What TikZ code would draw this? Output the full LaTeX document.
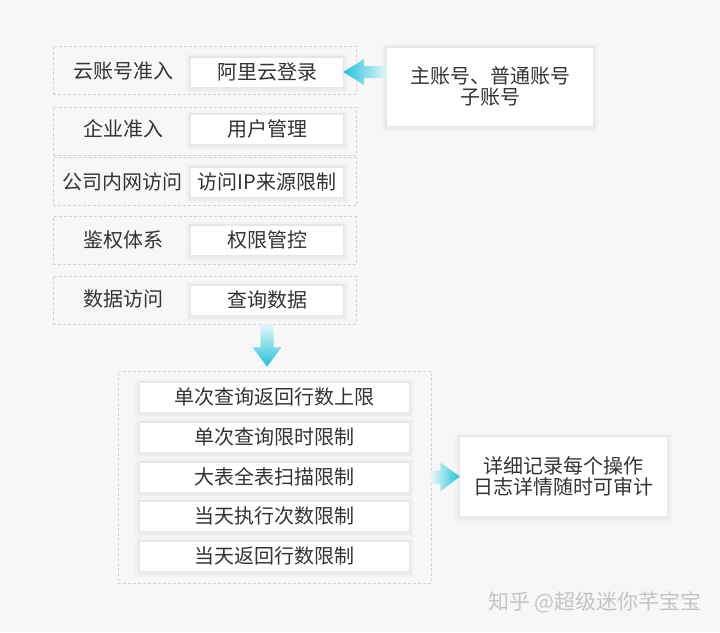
\documentclass[tikz,border=0pt]{standalone}
\usepackage{fontspec}
\setmainfont{Noto Sans CJK SC}
\usetikzlibrary{calc}
\definecolor{bg}{HTML}{F7F7F7}
\definecolor{txt}{HTML}{333333}
\definecolor{dashc}{HTML}{D4D4D4}
\definecolor{arrowc}{HTML}{22C3D9}
\definecolor{arrowl}{HTML}{E4F6F9}
\definecolor{wmc}{HTML}{C4C4C4}
\begin{document}
\begin{tikzpicture}[x=1pt,y=-1pt,
  every node/.style={font=\fontsize{20}{21.5}\selectfont, text=txt},
  dashbox/.style={rectangle, draw=dashc, dash pattern=on 3pt off 2pt, line width=0.7pt, inner sep=0pt},
  softbox/.style={rectangle, fill=white, inner sep=0pt,
    preaction={draw=black, draw opacity=0.02, line width=10pt, transform canvas={yshift=-1.5pt}},
    preaction={draw=black, draw opacity=0.025, line width=6pt, transform canvas={yshift=-1pt}},
    preaction={draw=black, draw opacity=0.025, line width=2.5pt}},
  rowbox/.style={softbox, minimum width=152pt, minimum height=29pt},
  limbox/.style={softbox, minimum width=269pt, minimum height=29pt},
  rowframe/.style={dashbox, minimum width=303pt, minimum height=48pt}
]
\fill[bg] (0,0) rectangle (720,632);
\useasboundingbox (0,0) rectangle (720,632);

% upper rows
\node[rowframe] (r1) at (204.5,70) {};
\node[rowframe] (r2) at (204.5,131) {};
\node[rowframe] (r3) at (204.5,181.5) {};
\node[rowframe] (r4) at (204.5,240.5) {};
\node[rowframe] (r5) at (204.5,300) {};

\node (l1) at (123,71) {云账号准入};
\node (l2) at (123,129) {企业准入};
\node (l3) at (122,182) {公司内网访问};
\node (l4) at (123,240) {鉴权体系};
\node (l5) at (123,299) {数据访问};

\node[rowbox] (login) at (267,72) {阿里云登录};
\node[rowbox] (user) at (267,129) {用户管理};
\node[rowbox] (ip) at (267,182) {访问IP来源限制};
\node[rowbox] (auth) at (267,240) {权限管控};
\node[rowbox] (query) at (267,300) {查询数据};

% account box
\node[softbox, minimum width=206pt, minimum height=78pt, align=center] (acct) at (490,86.5) {主账号、普通账号\\子账号};

% lower container
\node[dashbox, minimum width=313pt, minimum height=212pt] (lim) at (274.5,477) {};
\node[limbox] (q1) at (274.5,397) {单次查询返回行数上限};
\node[limbox] (q2) at (274.5,437) {单次查询限时限制};
\node[limbox] (q3) at (274.5,477) {大表全表扫描限制};
\node[limbox] (q4) at (274.5,516) {当天执行次数限制};
\node[limbox] (q5) at (274.5,556) {当天返回行数限制};

% log box
\node[softbox, minimum width=207pt, minimum height=79pt, align=center] (log) at (563.5,476.5) {详细记录每个操作\\日志详情随时可审计};

% arrows
\path[left color=arrowc, right color=arrowl]
  (login.east) -- ++(21,-13) -- ++(0,7) -- ($(acct.west |- login.east)+(0,-6)$)
  -- ++(0,12) -- ($(login.east)+(21,6)$) -- ++(0,7) -- cycle;

\path[top color=arrowl, bottom color=arrowc]
  ($(query.south |- r5.south)+(-6.5,0)$) -- ++(13,0) -- ++(0,23) -- ++(8,0)
  -- ($(query.south |- lim.north)+(0,-4)$) -- ($(query.south |- r5.south)+(-14.5,23)$)
  -- ++(8,0) -- cycle;

\path[left color=arrowl, right color=arrowc]
  ($(lim.east)+(0,-6.5)$) -- ++(9,0) -- ++(0,-8) -- (log.west)
  -- ($(lim.east)+(9,14.5)$) -- ++(0,-8) -- ($(lim.east)+(0,6.5)$) -- cycle;

% watermark
\node[text=wmc, font=\fontsize{21}{21}\selectfont] (wm) at (595,602) {知乎 @超级迷你芊宝宝};
\end{tikzpicture}
\end{document}
